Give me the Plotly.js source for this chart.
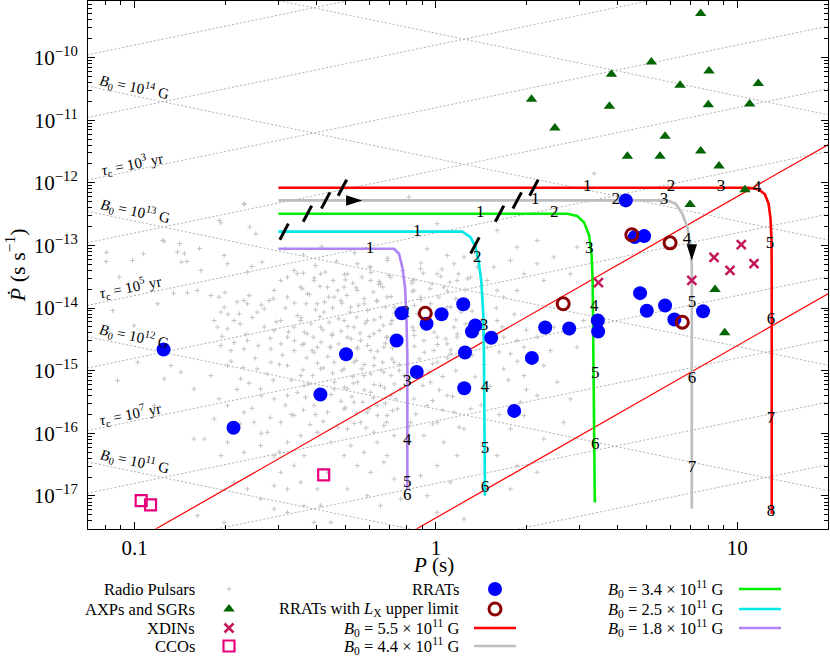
<!DOCTYPE html>
<html><head><meta charset="utf-8">
<script src="https://cdn.plot.ly/plotly-3.0.1.min.js"></script>
<style>html,body{margin:0;padding:0;background:#fff}#chart{width:830px;height:658px}</style>
</head><body><div id="chart"></div>
<script>
// ---------------- axes ----------------
const X_RANGE = [0.07, 20];
const Y_RANGE = [3e-18, 8e-10];
const X_TICKS = [0.1, 1, 10];
const X_TICKTEXT = ['0.1', '1', '10'];
const Y_TICKS = [1e-17, 1e-16, 1e-15, 1e-14, 1e-13, 1e-12, 1e-11, 1e-10];
const Y_TICKTEXT = ['10<sup>−17</sup>','10<sup>−16</sup>','10<sup>−15</sup>','10<sup>−14</sup>','10<sup>−13</sup>','10<sup>−12</sup>','10<sup>−11</sup>','10<sup>−10</sup>'];
const X_TITLE = '<i>P</i> (s)';
const Y_TITLE = '<i>Ṗ</i> (s s<sup>−1</sup>)';

// ---------------- guide lines (constant B0 and constant tau_c) ----------------
const GUIDE_P = [0.05, 25];
const B_LINE_PDOT = [[4.883e-17, 9.766e-20],[4.883e-15, 9.766e-18],[4.883e-13, 9.766e-16],[4.883e-11, 9.766e-14],[4.883e-9, 9.766e-12]];
const TAU_LINE_PDOT = [[7.921e-10,3.961e-7],[7.921e-11,3.961e-8],[7.921e-12,3.961e-9],[7.921e-13,3.961e-10],[7.921e-14,3.961e-11],[7.921e-15,3.961e-12],[7.921e-16,3.961e-13],[7.921e-17,3.961e-14],[7.921e-18,3.961e-15],[7.921e-19,3.961e-16],[7.921e-20,3.961e-17]];
const GUIDE_LABELS = ['<i>B</i><sub>0</sub> = 10<sup>14</sup> G','<i>τ</i><sub>c</sub> = 10<sup>3</sup> yr','<i>B</i><sub>0</sub> = 10<sup>13</sup> G','<i>τ</i><sub>c</sub> = 10<sup>5</sup> yr','<i>B</i><sub>0</sub> = 10<sup>12</sup> G','<i>τ</i><sub>c</sub> = 10<sup>7</sup> yr','<i>B</i><sub>0</sub> = 10<sup>11</sup> G'];
const GUIDE_LABEL_P = [0.1, 0.0984, 0.1007, 0.0968, 0.1, 0.0968, 0.1];
const GUIDE_LABEL_PDOT = [3.35e-11, 1.97e-12, 3.50e-13, 2.21e-14, 3.64e-15, 2.06e-16, 3.66e-17];
const GUIDE_LABEL_ANGLE = [11.7, -11.7, 11.7, -11.7, 11.7, -11.7, 11.7];

// ---------------- red straight lines ----------------
const DEATH_P = [[0.1, 20], [0.8, 20]];
const DEATH_PDOT = [[1.905e-18, 4.06e-12], [2.42e-18, 1.69e-14]];

// ---------------- populations ----------------
// radio pulsars: [log10 P, log10 Pdot]
const psrLog = [
[-0.637,-12.345],[-0.714,-12.638],[-0.618,-12.707],[-0.598,-12.813],[-0.902,-12.936],[-0.971,-13.133],[-0.858,-13.106],[-0.845,-13.266],[-0.827,-13.256],[-1.095,-13.256],[-1.007,-13.240],[-0.780,-13.399],[-0.692,-13.293],[-0.703,-13.160],[-0.611,-13.336],[-0.577,-13.266],[-0.626,-13.426],[-1.051,-13.506],[-1.073,-14.039],[-0.924,-13.932],[-1.002,-14.279],[-0.871,-13.762],[-0.825,-13.756],[-0.792,-13.719],[-0.747,-13.799],[-0.720,-13.826],[-0.703,-13.986],[-0.714,-14.065],[-0.736,-14.199],[-0.725,-14.305],[-0.692,-14.332],[-0.670,-14.199],[-0.653,-14.092],[-0.637,-13.879],[-0.626,-13.932],[-0.593,-14.065],[-0.570,-14.012],[-0.554,-13.879],[-0.537,-13.719],[-0.515,-13.559],[-0.493,-13.506],[-0.471,-13.399],[-0.449,-13.666],[-0.427,-13.772],[-0.405,-13.559],[-0.383,-13.453],[-0.360,-13.666],[-0.338,-13.826],[-0.394,-13.932],[-0.372,-14.065],[-0.493,-13.826],[-0.515,-14.199],[-0.537,-14.359],[-0.493,-14.465],[-0.471,-14.305],[-0.449,-14.199],[-0.427,-14.412],[-0.383,-14.305],[-0.344,-14.412],[-0.349,-14.625],[-0.394,-14.625],[-0.438,-14.572],[-0.515,-14.572],[-0.548,-14.652],[-0.626,-14.518],[-0.637,-14.652],[-0.681,-14.678],[-0.714,-14.598],[-0.471,-14.678],[-0.405,-14.705],
[-0.090,-12.227],[0.004,-12.654],[-0.029,-13.053],[0.037,-13.160],[0.060,-13.293],[-0.051,-13.373],[-0.079,-13.559],[0.004,-13.453],[0.026,-13.666],[0.070,-13.559],[0.203,-12.760],[0.192,-13.346],[0.247,-13.240],[0.269,-13.027],[0.292,-13.453],[0.336,-13.293],[0.358,-13.559],[0.391,-13.186],[0.446,-13.453],[0.468,-13.027],[0.336,-12.920],[0.269,-13.719],[0.225,-13.826],[0.203,-13.719],[0.170,-13.559],[0.115,-13.506],[0.137,-13.346],[0.093,-13.186],[-0.162,-13.240],[-0.217,-13.346],[-0.261,-13.293],[-0.294,-13.453],[-0.305,-13.666],[-0.261,-13.719],[-0.217,-13.559],[-0.184,-13.613],[-0.150,-13.506],[-0.316,-13.879],[-0.283,-13.986],[-0.239,-13.932],[-0.195,-13.879],[-0.162,-13.826],[-0.139,-13.986],[-0.305,-14.199],[-0.272,-14.305],[-0.228,-14.199],[-0.184,-14.145],[-0.150,-14.252],[-0.294,-14.465],[-0.250,-14.518],[-0.206,-14.412],[-0.162,-14.465],[-0.305,-14.678],[-0.261,-14.625],[-0.217,-14.678],[-0.173,-14.625],[-0.073,-13.719],[-0.051,-13.826],[-0.018,-13.932],[-0.062,-14.092],[-0.073,-14.359],[-0.040,-14.518],[0.004,-14.465],[0.037,-14.572],[-0.007,-14.678],[0.048,-14.731],[0.060,-14.305],[0.070,-14.465],[0.037,-13.986],[0.203,-14.199],[0.225,-14.465],[0.269,-14.518],[0.292,-14.625],[0.336,-14.465],[0.391,-14.305],[0.446,-14.412],[0.468,-14.625],[0.380,-14.678],[0.490,-14.199],[0.247,-14.731],[0.170,-14.625],
[-1.057,-15.158],[-0.847,-15.024],[-0.803,-15.291],[-0.902,-15.131],[-0.747,-15.078],[-0.692,-14.918],[-0.648,-15.131],[-0.593,-14.971],[-0.548,-14.865],[-0.493,-14.918],[-0.449,-15.078],[-0.383,-14.971],[-0.338,-14.865],[-0.582,-15.291],[-0.537,-15.451],[-0.493,-15.397],[-0.438,-15.237],[-0.405,-15.557],[-0.360,-15.664],[-0.471,-15.717],[-0.515,-15.824],[-0.559,-15.983],[-0.604,-15.824],[-0.637,-15.664],[-0.692,-15.557],[-0.736,-15.770],[-0.769,-16.090],[-0.692,-16.143],[-0.637,-16.303],[-0.582,-16.196],[-0.537,-16.356],[-0.493,-16.143],[-0.449,-16.037],[-0.394,-15.983],[-0.349,-16.143],[-0.438,-16.356],[-0.471,-16.516],[-0.515,-16.623],[-0.537,-16.836],[-0.493,-16.889],[-0.449,-16.782],[-0.394,-16.889],[-0.360,-16.623],[-0.383,-17.155],[-0.438,-17.155],[-0.493,-17.262],[-0.537,-17.209],[-0.582,-17.049],[-0.626,-16.889],[-0.670,-16.782],[-0.714,-16.356],[-0.803,-16.090],[-0.935,-15.557],[-0.880,-14.918],[-0.338,-15.291],[-0.990,-14.865],[-0.792,-17.315],[-0.703,-17.422],[-0.349,-17.422],[-0.405,-17.422],
[-0.305,-14.971],[-0.272,-14.865],[-0.239,-15.078],[-0.206,-14.918],[-0.173,-15.024],[-0.139,-14.865],[-0.294,-15.291],[-0.261,-15.184],[-0.217,-15.344],[-0.184,-15.237],[-0.150,-15.397],[-0.117,-15.291],[-0.305,-15.610],[-0.272,-15.504],[-0.228,-15.664],[-0.195,-15.557],[-0.162,-15.717],[-0.128,-15.610],[-0.294,-15.930],[-0.250,-15.824],[-0.206,-15.983],[-0.173,-15.877],[-0.139,-16.037],[-0.283,-16.196],[-0.239,-16.303],[-0.195,-16.143],[-0.162,-16.356],[-0.261,-16.516],[-0.217,-16.623],[-0.173,-16.463],[-0.139,-16.729],[-0.294,-16.889],[-0.228,-16.996],[-0.184,-17.155],[-0.051,-14.971],[-0.018,-15.184],[0.004,-14.865],[0.037,-15.397],[-0.029,-15.557],[0.004,-15.824],[0.060,-15.664],[-0.040,-16.037],[0.026,-16.143],[0.093,-15.930],[0.115,-15.610],[0.070,-16.356],[0.004,-16.516],[-0.051,-16.676],[0.048,-16.782],[-0.029,-16.996],[0.225,-14.971],[0.292,-15.078],[0.358,-14.918],[0.402,-15.184],[0.336,-15.397],[0.292,-15.717],[0.247,-15.930],[0.358,-16.090],[0.424,-15.824],[0.446,-15.451],[0.203,-16.356],[0.269,-16.516],[0.336,-16.623],[0.247,-16.889],[0.004,-17.262],[0.093,-17.369],[-0.305,-16.356],[-0.117,-17.049],[-0.084,-15.824],[-0.073,-15.451],[-0.106,-15.078],
[-0.636,-12.33],[-0.719,-12.60],[-0.907,-12.92],[-0.851,-12.97],[-0.785,-13.05],[-0.835,-13.13],[-1.093,-13.11],[0.525,-11.85],
[-0.440,-13.442],[-0.404,-13.517],[-0.367,-13.426],[-0.341,-13.559],[-0.304,-13.463],[-0.276,-13.602],[-0.246,-13.506],[-0.216,-13.431],[-0.188,-13.575],[-0.157,-13.479],[-0.072,-13.549],[-0.042,-13.442],[-0.013,-13.613],[0.016,-13.495],[0.046,-13.586],[0.075,-13.453],[0.105,-13.533],
[-0.444,-13.692],[-0.420,-13.783],[-0.385,-13.655],[-0.356,-13.826],[-0.326,-13.719],[-0.296,-13.799],[-0.265,-13.676],[-0.238,-13.852],[-0.208,-13.746],[-0.177,-13.666],[-0.149,-13.815],[-0.078,-13.730],[-0.050,-13.868],[-0.020,-13.692],[0.009,-13.826],[0.038,-13.730],[0.066,-13.852],[0.097,-13.708],
[-0.431,-13.932],[-0.400,-14.028],[-0.370,-13.906],[-0.343,-13.996],[-0.312,-13.922],[-0.285,-14.065],[-0.257,-13.959],[-0.227,-14.039],[-0.197,-13.890],[-0.168,-13.985],[-0.138,-14.081],[-0.072,-13.959],[0.049,-13.985],[0.083,-14.065],
[-0.448,-14.156],[-0.415,-14.252],[-0.385,-14.135],[-0.354,-14.225],[-0.323,-14.172],[-0.293,-14.294],[-0.263,-14.145],[-0.235,-14.241],[-0.205,-14.188],[-0.175,-14.278],[-0.146,-14.199],[-0.078,-14.305],[0.066,-14.188],[0.099,-14.252],
[-0.437,-14.385],[-0.407,-14.465],[-0.376,-14.348],[-0.345,-14.438],[-0.315,-14.369],[-0.282,-14.492],[-0.252,-14.401],[-0.221,-14.454],[-0.188,-14.358],[-0.164,-14.465],[-0.072,-14.438],[-0.006,-14.385],[0.033,-14.492],[0.071,-14.412],
[-0.444,-14.582],[-0.411,-14.678],[-0.381,-14.545],[-0.352,-14.625],[-0.323,-14.572],[-0.260,-14.651],[-0.227,-14.598],[-0.194,-14.689],[-0.168,-14.561],[-0.144,-14.636],[-0.072,-14.614],[-0.039,-14.705],[0.005,-14.582],[0.049,-14.667],
[-0.429,-14.795],[-0.393,-14.880],[-0.359,-14.774],[-0.265,-14.838],[-0.238,-14.902],[-0.205,-14.795],[-0.177,-14.865],[-0.146,-14.811],[-0.122,-14.902],[-0.055,-14.811],[-0.011,-14.891],[0.038,-14.795],
[-0.442,-14.987],[-0.409,-15.078],[-0.374,-14.955],[-0.343,-15.040],[-0.312,-14.998],[-0.276,-15.094],[-0.246,-14.971],[-0.216,-15.051],[-0.183,-14.987],[-0.149,-15.078],[-0.122,-14.998],[-0.022,-15.024],[0.022,-15.094],[0.066,-14.998],
[-0.422,-15.211],[-0.387,-15.291],[-0.337,-15.184],[-0.304,-15.264],[-0.274,-15.200],[-0.238,-15.307],[-0.205,-15.222],[-0.171,-15.275],[-0.138,-15.211],[-0.044,-15.237],[0.011,-15.307],
[-0.433,-15.424],[-0.348,-15.381],[-0.315,-15.488],[-0.279,-15.413],[-0.243,-15.504],[-0.208,-15.435],[-0.168,-15.520],[-0.133,-15.451],[-0.011,-15.477],[0.055,-15.413],
[-0.440,-15.626],[-0.400,-15.701],[-0.301,-15.594],[-0.263,-15.680],[-0.221,-15.610],[-0.194,-15.717],[-0.144,-15.637],[-0.067,-15.690],[0.022,-15.626],
[-0.418,-15.861],[-0.374,-15.808],[-0.326,-15.903],[-0.271,-15.840],[-0.232,-15.914],[-0.164,-15.824],[-0.089,-15.893],[-0.011,-15.850],[0.077,-15.903],
[-0.70,-13.75],[-0.66,-13.90],[-0.62,-13.80],[-0.58,-13.95],[-0.54,-13.85],[-0.50,-14.00],[-0.47,-13.92],[-0.69,-14.10],[-0.65,-14.25],[-0.61,-14.15],[-0.57,-14.30],[-0.53,-14.22],[-0.49,-14.38],[-0.46,-14.12],[-0.71,-14.45],[-0.67,-14.55],[-0.63,-14.42],[-0.59,-14.60],[-0.55,-14.48],[-0.51,-14.75],[-0.47,-14.52],[-0.68,-14.85],[-0.64,-14.95],[-0.60,-14.80],[-0.56,-15.05],[-0.52,-14.90],[-0.48,-15.15],[-0.66,-15.30],[-0.62,-15.20],[-0.58,-15.40],[-0.54,-15.15],[-0.50,-15.55],[-0.46,-15.35],[-0.72,-15.45],[-0.61,-15.60],[-0.55,-15.75],[-0.48,-15.70],[-0.65,-15.85],[-0.58,-16.00],[-0.52,-16.30],
[0.12,-14.05],[0.16,-14.20],[0.20,-14.00],[0.14,-14.40],[0.18,-14.55],[0.22,-14.30],[0.26,-14.10],[0.30,-14.35],[0.12,-14.75],[0.16,-14.90],[0.21,-14.70],[0.27,-14.85],[0.33,-14.75],[0.13,-15.10],[0.18,-15.25],[0.24,-15.15],[0.30,-15.30],[0.15,-15.55],[0.21,-15.70],[0.28,-15.50],
[-0.50,-13.05],[-0.44,-13.15],[-0.38,-13.02],[-0.33,-13.25],[-0.27,-13.12],[-0.22,-13.35],[-0.16,-13.20],[-0.11,-13.40],[-0.05,-13.28],[0.02,-13.38],[-0.46,-13.45],[-0.40,-13.32],[-0.30,-13.55],[-0.19,-13.62],[-0.08,-13.60]
];
const rratP = [0.1247,0.2128,0.4134,0.503,0.740,0.769,0.8635,0.9307,1.0437,1.2316,1.3499,1.3164,1.5257,1.248,1.241,1.818,2.081,2.304,2.767,3.444,3.452,4.757,5.008,5.758,6.182,7.696,4.266,4.568,4.907];
const rratPdot = [2.18e-15,1.23e-16,4.16e-16,1.83e-15,3.03e-15,8.28e-15,9.51e-16,5.61e-15,7.98e-15,1.153e-14,5.27e-15,4.23e-15,3.35e-15,1.95e-15,5.24e-16,2.28e-16,1.60e-15,4.90e-15,4.72e-15,6.34e-15,4.23e-15,1.73e-14,9.05e-15,1.10e-14,6.56e-15,8.91e-15,5.24e-13,1.36e-13,1.41e-13];
const rratUlP = [0.9215, 2.643, 6.571, 4.466, 5.983];
const rratUlPdot = [8.28e-15, 1.17e-14, 5.95e-15, 1.48e-13, 1.10e-13];
const xdinP = [3.460, 7.063, 8.372, 9.459, 10.31, 11.36];
const xdinPdot = [2.54e-14, 2.76e-14, 6.43e-14, 3.99e-14, 1.03e-13, 5.11e-14];
const axpP = [7.56,5.187,8.058,3.822,11.74,6.458,2.075,3.764,8.015,10.99,2.481,5.758,4.318,5.541,7.56,8.695,10.60,6.97,8.436,9.085];
const axpPdot = [5.05e-10,8.51e-11,6.11e-11,5.41e-11,3.84e-11,3.61e-11,2.16e-11,1.67e-11,1.77e-11,1.81e-11,7.49e-12,5.52e-12,2.65e-12,2.65e-12,3.21e-12,1.85e-12,7.77e-13,4.52e-13,1.98e-14,4.03e-15];
const ccoP = [0.1051, 0.1129, 0.4239];
const ccoPdot = [8.41e-18, 7.18e-18, 2.17e-17];

// ---------------- evolutionary tracks ----------------
const trackNames = ['5.5', '4.4', '3.4', '2.5', '1.8'];
const trackColors = ['#ff0000', '#bdbdbd', '#00ee00', '#00e8e8', '#b084f5'];
const trackP = [
  [0.300, 10.94, 11.80, 12.36, 12.69, 12.89, 12.99, 13.01, 13.01],
  [0.300, 5.847, 6.249, 6.571, 6.827, 7.007, 7.063, 7.063],
  [0.300, 2.725, 2.941, 3.102, 3.223, 3.285, 3.311, 3.367],
  [0.300, 1.222, 1.302, 1.353, 1.389, 1.413, 1.435, 1.443, 1.454],
  [0.300, 0.7256, 0.7539, 0.7731, 0.7893, 0.7972, 0.8033, 0.8033]
];
const trackPdot = [
  [8.35e-13, 8.35e-13, 7.85e-13, 6.53e-13, 4.69e-13, 2.70e-13, 1.20e-13, 2.76e-14, 5.21e-18],
  [5.24e-13, 5.24e-13, 4.64e-13, 3.21e-13, 1.96e-13, 9.39e-14, 4.50e-14, 6.27e-18],
  [3.21e-13, 3.21e-13, 2.96e-13, 2.33e-13, 1.45e-13, 6.93e-14, 2.76e-14, 7.89e-18],
  [1.66e-13, 1.66e-13, 1.36e-13, 9.39e-14, 5.10e-14, 2.76e-14, 8.11e-15, 1.75e-15, 1.01e-17],
  [8.85e-14, 8.85e-14, 7.36e-14, 4.50e-14, 2.16e-14, 8.11e-15, 1.86e-15, 1.26e-17]
];
// time-step labels along each track
const stepP = [
  [3.177, 6.029, 8.83, 11.62, 12.84, 12.94, 12.94, 12.94],
  [2.134, 3.961, 5.713, 6.811, 7.076, 7.076, 7.076],
  [1.403, 2.467, 3.223, 3.349, 3.375, 3.375],
  [0.867, 1.370, 1.443, 1.454, 1.454, 1.454],
  [0.604, 0.793, 0.8033, 0.8033, 0.8033, 0.8033]
];
const stepPdot = [
  [8.77e-13, 8.77e-13, 8.77e-13, 8.45e-13, 1.08e-13, 6.56e-15, 1.72e-16, 5.61e-18],
  [5.43e-13, 5.43e-13, 5.43e-13, 1.25e-13, 1.23e-14, 7.48e-16, 2.83e-17],
  [3.37e-13, 3.37e-13, 8.95e-14, 1.06e-14, 9.0e-16, 6.59e-17],
  [1.68e-13, 6.43e-14, 5.27e-15, 5.38e-16, 5.70e-17, 1.36e-17],
  [8.95e-14, 8.5e-15, 6.70e-16, 7.64e-17, 1.63e-17, 1.01e-17]
];
const stepText = [
  ['1','2','3','4','5','6','7','8'],
  ['1','2','3','4','5','6','7'],
  ['1','2','3','4','5','6'],
  ['1','2','3','4','5','6'],
  ['1','2','3','4','5','6']
];
// isochrone tick marks on tracks
const isoP = [0.3133, 0.3744, 0.4305, 0.4891, 1.347, 1.625, 1.860, 2.113];
const isoPdot = [1.66e-13, 3.21e-13, 5.24e-13, 8.35e-13, 1.0e-13, 3.21e-13, 5.24e-13, 8.35e-13];
// direction arrows
const arrowP = [0.5693, 7.063];
const arrowPdot = [5.24e-13, 5.75e-14];
const arrowAngle = [90, 180];

// ---------------- build ----------------
const SERIF = '"Liberation Serif", "Times New Roman", serif';
const lg = Math.log10;
const traces = [];
const GUIDE_STYLE = {color: '#b0b0b0', width: 1, dash: '2px,2px'};
B_LINE_PDOT.forEach(pd => traces.push({x: GUIDE_P, y: pd, mode: 'lines', line: GUIDE_STYLE, hoverinfo: 'skip'}));
TAU_LINE_PDOT.forEach(pd => traces.push({x: GUIDE_P, y: pd, mode: 'lines', line: GUIDE_STYLE, hoverinfo: 'skip'}));

const PSR_MARKER = {symbol: 'cross-thin', size: 3.5, line: {width: 1, color: '#c4c4c4'}};
traces.push({name: 'Radio Pulsars', x: psrLog.map(p => Math.pow(10, p[0])), y: psrLog.map(p => Math.pow(10, p[1])),
  mode: 'markers', marker: PSR_MARKER});

DEATH_P.forEach((p, i) => traces.push({x: p, y: DEATH_PDOT[i], mode: 'lines', line: {color: '#ff0000', width: 1.2}}));

trackP.forEach((p, i) => traces.push({name: 'B0 = ' + trackNames[i] + 'e11 G', x: p, y: trackPdot[i], mode: 'lines',
  line: {color: trackColors[i], width: 2.6}}));

traces.push({name: 'isochrone', x: isoP, y: isoPdot, mode: 'markers',
  marker: {symbol: 'line-ns', size: 13, angle: 28, line: {width: 3, color: '#000'}}});
traces.push({name: 'arrows', x: arrowP, y: arrowPdot, mode: 'markers',
  marker: {symbol: 'arrow', size: 17, angle: arrowAngle, color: '#000'}});

stepP.forEach((p, i) => traces.push({x: p, y: stepPdot[i], text: stepText[i], mode: 'text',
  textposition: 'middle center', textfont: {family: SERIF, size: 17, color: '#000'}, hoverinfo: 'skip'}));

const markerStyles = {
  psr: PSR_MARKER,
  axp: {symbol: 'triangle-up', size: 10, color: '#006400'},
  xdin: {symbol: 'x-thin', size: 9, line: {width: 2.5, color: '#c2185b'}},
  cco: {symbol: 'square-open', size: 11, color: '#e6007e', line: {width: 2.2}},
  rrat: {symbol: 'circle', size: 14, color: '#0000ff'},
  ul: {symbol: 'circle-open', size: 12, color: '#8b0000', line: {width: 3}}
};
traces.push({name: 'AXPs and SGRs', x: axpP, y: axpPdot, mode: 'markers', marker: markerStyles.axp});
traces.push({name: 'XDINs', x: xdinP, y: xdinPdot, mode: 'markers', marker: markerStyles.xdin});
traces.push({name: 'CCOs', x: ccoP, y: ccoPdot, mode: 'markers', marker: markerStyles.cco});
traces.push({name: 'RRATs', x: rratP, y: rratPdot, mode: 'markers', marker: markerStyles.rrat});
traces.push({name: 'RRATs with LX upper limit', x: rratUlP, y: rratUlPdot, mode: 'markers', marker: markerStyles.ul});

// ---------------- legend (drawn below the plot, text left of symbol) ----------------
const LEG = {xaxis: 'x2', yaxis: 'y2', hoverinfo: 'skip'};
const legendItems = [
  {text: 'Radio Pulsars', col: 0, row: 0, kind: 'psr'},
  {text: 'AXPs and SGRs', col: 0, row: 1, kind: 'axp'},
  {text: 'XDINs', col: 0, row: 2, kind: 'xdin'},
  {text: 'CCOs', col: 0, row: 3, kind: 'cco'},
  {text: 'RRATs', col: 1, row: 0, kind: 'rrat'},
  {text: 'RRATs with <i>L</i><sub>X</sub> upper limit', col: 1, row: 1, kind: 'ul'},
  {text: '<i>B</i><sub>0</sub> = 5.5 × 10<sup>11</sup> G', col: 1, row: 2, kind: 0},
  {text: '<i>B</i><sub>0</sub> = 4.4 × 10<sup>11</sup> G', col: 1, row: 3, kind: 1},
  {text: '<i>B</i><sub>0</sub> = 3.4 × 10<sup>11</sup> G', col: 2, row: 0, kind: 2},
  {text: '<i>B</i><sub>0</sub> = 2.5 × 10<sup>11</sup> G', col: 2, row: 1, kind: 3},
  {text: '<i>B</i><sub>0</sub> = 1.8 × 10<sup>11</sup> G', col: 2, row: 2, kind: 4}
];
const colTextRight = [196, 460, 724];
const colSymbol = [229, 495, 760];
const rowY = [589, 609, 628, 646];
const annotations = [];
legendItems.forEach(it => {
  const y = rowY[it.row];
  annotations.push({xref: 'x2', yref: 'y2', x: colTextRight[it.col], y: y, text: it.text, showarrow: false,
    xanchor: 'right', yanchor: 'middle', borderpad: 0, font: {family: SERIF, size: 16.5, color: '#000'}});
  if (typeof it.kind === 'number') {
    const cx = colSymbol[it.col];
    traces.push(Object.assign({x: [cx - 21, cx + 21], y: [y, y], mode: 'lines', line: {color: trackColors[it.kind], width: 2.6}}, LEG));
  } else {
    traces.push(Object.assign({x: [colSymbol[it.col]], y: [y], mode: 'markers', marker: markerStyles[it.kind]}, LEG));
  }
});

// x-axis title placed just under the tick labels, as in the reference
annotations.push({xref: 'x2', yref: 'paper', x: 433, y: 0.1416, text: X_TITLE, showarrow: false,
  xanchor: 'center', yanchor: 'middle', borderpad: 0, font: {family: SERIF, size: 21, color: '#000'}});

GUIDE_LABELS.forEach((t, i) => annotations.push({x: lg(GUIDE_LABEL_P[i]), y: lg(GUIDE_LABEL_PDOT[i]), xref: 'x', yref: 'y',
  text: t, showarrow: false, textangle: GUIDE_LABEL_ANGLE[i], xanchor: 'center', yanchor: 'middle',
  font: {family: SERIF, size: 15, color: '#000'}}));

const axisCommon = {type: 'log', showgrid: false, zeroline: false, showline: true, linecolor: '#000', linewidth: 1,
  mirror: 'ticks', ticks: 'inside', ticklen: 7, tickwidth: 1, tickcolor: '#000',
  tickfont: {family: SERIF, size: 21, color: '#000'}};

const xMinor = [0.08, 0.09, 0.2, 0.3, 0.4, 0.5, 0.6, 0.7, 0.8, 0.9, 2, 3, 4, 5, 6, 7, 8, 9, 20];
const yMinor = [];
for (let e = -18; e <= -10; e++) for (let m = 2; m <= 9; m++) yMinor.push(m * Math.pow(10, e));

const layout = {
  width: 830, height: 658,
  margin: {l: 88, r: 2, t: 1, b: 0},
  paper_bgcolor: '#fff', plot_bgcolor: '#fff',
  showlegend: false,
  font: {family: SERIF, size: 16, color: '#000'},
  xaxis: Object.assign({}, axisCommon, {range: [lg(X_RANGE[0]), lg(X_RANGE[1])], domain: [0, 1], anchor: 'y',
    tickmode: 'array', tickvals: X_TICKS, ticktext: X_TICKTEXT,
    minor: {tickmode: 'array', tickvals: xMinor, ticks: 'inside', ticklen: 4, tickcolor: '#000'}}),
  yaxis: Object.assign({}, axisCommon, {range: [lg(Y_RANGE[0]), lg(Y_RANGE[1])], domain: [0.1968, 1], anchor: 'x',
    tickmode: 'array', tickvals: Y_TICKS, ticktext: Y_TICKTEXT, ticklabelstandoff: 5,
    minor: {tickmode: 'array', tickvals: yMinor, ticks: 'inside', ticklen: 4, tickcolor: '#000'},
    title: {text: Y_TITLE, font: {family: SERIF, size: 22}, standoff: 2}}),
  xaxis2: {domain: [0, 1], range: [88, 828], visible: false, anchor: 'y2', fixedrange: true},
  yaxis2: {domain: [0, 0.135], range: [658, 569.3], visible: false, anchor: 'x2', fixedrange: true},
  annotations: annotations
};

Plotly.newPlot('chart', traces, layout, {displayModeBar: false, staticPlot: true});
</script></body></html>
